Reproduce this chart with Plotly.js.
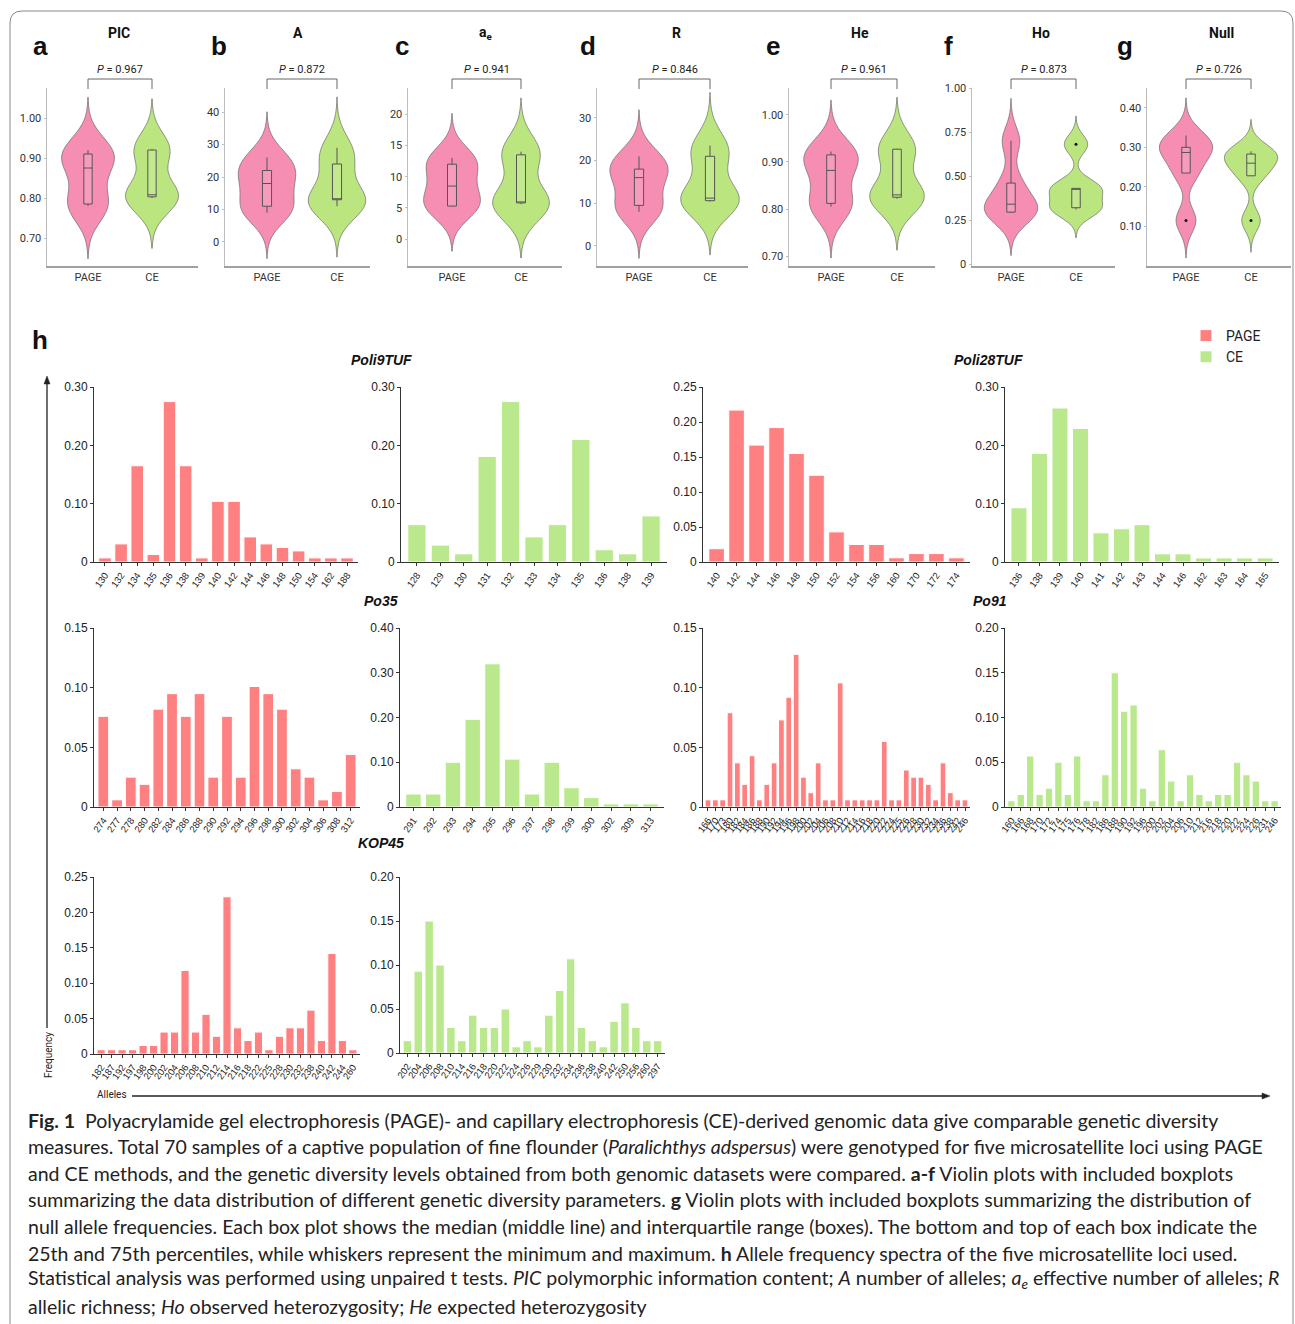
<!DOCTYPE html>
<html>
<head>
<meta charset="utf-8">
<script src="https://cdn.plot.ly/plotly-3.0.1.min.js"></script>
<style>
html,body{margin:0;padding:0;background:#fff;}
#chart{width:1295px;height:1324px;}
</style>
</head>
<body>
<div id="chart"></div>
<script>
// ---------------- DATA ----------------
const groups = ['PAGE', 'CE'];

// per-locus values (5 loci) estimated from the violin/box plots
const PIC_PAGE = [0.78, 0.785, 0.875, 0.91, 0.92];
const PIC_CE   = [0.80, 0.803, 0.808, 0.92, 0.922];
const A_PAGE   = [9, 11, 18, 22, 26];
const A_CE     = [11, 13, 13, 24, 29];
const AE_PAGE  = [5.2, 5.3, 8.5, 12, 13];
const AE_CE    = [5.6, 5.8, 5.8, 13.5, 14];
const R_PAGE   = [8, 9.5, 16, 18, 21];
const R_CE     = [10.4, 10.6, 11.2, 21, 23.5];
const HE_PAGE  = [0.805, 0.812, 0.882, 0.915, 0.922];
const HE_CE    = [0.822, 0.825, 0.83, 0.927, 0.928];
const HO_PAGE  = [0.29, 0.295, 0.34, 0.46, 0.70];
const HO_CE    = [0.31, 0.32, 0.43, 0.43, 0.68];
const NULL_PAGE = [0.115, 0.235, 0.287, 0.30, 0.33];
const NULL_CE   = [0.115, 0.228, 0.26, 0.283, 0.29];

const paramTitles = ['PIC', 'A', 'a<sub>e</sub>', 'R', 'He', 'Ho', 'Null'];
const panelLetters = ['a', 'b', 'c', 'd', 'e', 'f', 'g'];
const pValues = ['0.967', '0.872', '0.941', '0.846', '0.961', '0.873', '0.726'];

const violinTicks = [
  [0.70, 0.80, 0.90, 1.00],
  [0, 10, 20, 30, 40],
  [0, 5, 10, 15, 20],
  [0, 10, 20, 30],
  [0.70, 0.80, 0.90, 1.00],
  [0, 0.25, 0.50, 0.75, 1.00],
  [0.10, 0.20, 0.30, 0.40]
];
const violinTickText = [
  ['0.70', '0.80', '0.90', '1.00'],
  ['0', '10', '20', '30', '40'],
  ['0', '5', '10', '15', '20'],
  ['0', '10', '20', '30'],
  ['0.70', '0.80', '0.90', '1.00'],
  ['0', '0.25', '0.50', '0.75', '1.00'],
  ['0.10', '0.20', '0.30', '0.40']
];

// allele frequency spectra
const poli9_PAGE_alleles = ['130','132','134','135','136','138','139','140','142','144','146','148','150','154','162','188'];
const poli9_PAGE_freq    = [0.007,0.031,0.165,0.013,0.275,0.165,0.007,0.104,0.104,0.043,0.031,0.025,0.019,0.007,0.007,0.007];
const poli9_CE_alleles   = ['128','129','130','131','132','133','134','135','136','138','139'];
const poli9_CE_freq      = [0.064,0.029,0.014,0.181,0.275,0.043,0.064,0.210,0.021,0.014,0.079];

const poli28_PAGE_alleles = ['140','142','144','146','148','150','152','154','156','160','170','172','174'];
const poli28_PAGE_freq    = [0.019,0.217,0.167,0.192,0.155,0.124,0.043,0.025,0.025,0.006,0.012,0.012,0.006];
const poli28_CE_alleles   = ['136','138','139','140','141','142','143','144','146','162','163','164','165'];
const poli28_CE_freq      = [0.093,0.186,0.264,0.229,0.050,0.057,0.064,0.014,0.014,0.007,0.007,0.007,0.007];

const po35_PAGE_alleles = ['274','277','278','280','282','284','286','288','290','292','294','296','298','300','302','304','306','308','312'];
const po35_PAGE_freq    = [0.076,0.006,0.025,0.019,0.082,0.095,0.076,0.095,0.025,0.076,0.025,0.101,0.095,0.082,0.032,0.025,0.006,0.013,0.044];
const po35_CE_alleles   = ['291','292','293','294','295','296','297','298','299','300','302','309','313'];
const po35_CE_freq      = [0.029,0.029,0.100,0.196,0.320,0.107,0.029,0.100,0.043,0.021,0.007,0.007,0.007];

const po91_PAGE_alleles = ['166','170','173','180','182','184','186','188','190','192','194','196','198','200','202','204','206','208','210','212','214','216','218','220','222','224','225','226','228','230','232','234','236','238','242','246'];
const po91_PAGE_freq    = [0.006,0.006,0.006,0.079,0.037,0.019,0.043,0.006,0.019,0.037,0.073,0.092,0.128,0.025,0.012,0.037,0.006,0.006,0.104,0.006,0.006,0.006,0.006,0.006,0.055,0.006,0.006,0.031,0.025,0.025,0.019,0.006,0.037,0.012,0.006,0.006];
const po91_CE_alleles   = ['160','166','168','170','172','174','175','176','178','182','186','188','190','192','196','200','202','204','206','210','212','216','218','220','222','224','226','231','246'];
const po91_CE_freq      = [0.007,0.014,0.057,0.014,0.021,0.050,0.014,0.057,0.007,0.007,0.036,0.150,0.107,0.114,0.021,0.007,0.064,0.029,0.007,0.036,0.014,0.007,0.014,0.014,0.050,0.036,0.029,0.007,0.007];

const kop45_PAGE_alleles = ['182','187','192','197','198','200','202','204','206','208','210','212','214','216','218','222','225','228','230','232','238','240','242','244','260'];
const kop45_PAGE_freq    = [0.006,0.006,0.006,0.006,0.012,0.012,0.031,0.031,0.118,0.031,0.056,0.025,0.222,0.037,0.019,0.031,0.006,0.025,0.037,0.037,0.062,0.019,0.142,0.019,0.006];
const kop45_CE_alleles   = ['202','204','206','208','210','214','216','218','220','222','224','226','229','230','232','234','236','238','240','242','250','256','260','297'];
const kop45_CE_freq      = [0.014,0.093,0.150,0.100,0.029,0.014,0.043,0.029,0.029,0.050,0.007,0.014,0.007,0.043,0.071,0.107,0.029,0.014,0.007,0.036,0.057,0.029,0.014,0.014];

const locusNames = ['Poli9TUF', 'Poli28TUF', 'Po35', 'Po91', 'KOP45'];
const barYTicks = [
  [0,0.10,0.20,0.30],[0,0.10,0.20,0.30],[0,0.05,0.10,0.15,0.20,0.25],[0,0.10,0.20,0.30],
  [0,0.05,0.10,0.15],[0,0.10,0.20,0.30,0.40],[0,0.05,0.10,0.15],[0,0.05,0.10,0.15,0.20],
  [0,0.05,0.10,0.15,0.20,0.25],[0,0.05,0.10,0.15,0.20]
];

const captionLines = [
  '<b>Fig. 1</b>  Polyacrylamide gel electrophoresis (PAGE)- and capillary electrophoresis (CE)-derived genomic data give comparable genetic diversity',
  'measures. Total 70 samples of a captive population of fine flounder (<i>Paralichthys adspersus</i>) were genotyped for five microsatellite loci using PAGE',
  'and CE methods, and the genetic diversity levels obtained from both genomic datasets were compared. <b>a-f</b> Violin plots with included boxplots',
  'summarizing the data distribution of different genetic diversity parameters. <b>g</b> Violin plots with included boxplots summarizing the distribution of',
  'null allele frequencies. Each box plot shows the median (middle line) and interquartile range (boxes). The bottom and top of each box indicate the',
  '25th and 75th percentiles, while whiskers represent the minimum and maximum. <b>h</b> Allele frequency spectra of the five microsatellite loci used.',
  'Statistical analysis was performed using unpaired t tests. <i>PIC</i> polymorphic information content; <i>A</i> number of alleles; <i>a<sub>e</sub></i> effective number of alleles; <i>R</i>',
  'allelic richness; <i>Ho</i> observed heterozygosity; <i>He</i> expected heterozygosity'
];

// ---------------- LAYOUT HELPERS ----------------
const W = 1295, H = 1324;
const fx = p => p / W;
const fy = p => 1 - p / H;

const PAGE_FILL = 'rgb(246,142,179)';
const CE_FILL = 'rgb(187,230,127)';
const BAR_PAGE = 'rgb(255,128,128)';
const BAR_CE = 'rgb(186,232,140)';
const FONT = 'Roboto, Arial, sans-serif';
const ARIAL = '"Liberation Sans", Arial, sans-serif';

// violin panel geometry (pixels)
const vGeom = [
  {ax: 47,  xe: 198,  xp: 88,   xc: 152,  lx: 40,   yr: [0.63, 1.075]},
  {ax: 225, xe: 370,  xp: 267,  xc: 337,  lx: 219,  yr: [-7.4, 47.4]},
  {ax: 408, xe: 562,  xp: 452,  xc: 521,  lx: 402,  yr: [-4.3, 24.2]},
  {ax: 597, xe: 748,  xp: 639,  xc: 710,  lx: 588,  yr: [-4.7, 37.0]},
  {ax: 789, xe: 935,  xp: 831,  xc: 897,  lx: 773,  yr: [0.679, 1.057]},
  {ax: 972, xe: 1115, xp: 1011, xc: 1076, lx: 948,  yr: [-0.011, 1.0]},
  {ax: 1147,xe: 1291, xp: 1186, xc: 1251, lx: 1125, yr: [0, 0.45]}
];
const vTop = 88, vBot = 266;
const titleX = [119, 298, 486, 676, 860, 1041, 1221];

const violinData = [
  [PIC_PAGE, PIC_CE], [A_PAGE, A_CE], [AE_PAGE, AE_CE], [R_PAGE, R_CE],
  [HE_PAGE, HE_CE], [HO_PAGE, HO_CE], [NULL_PAGE, NULL_CE]
];

// bar panel geometry (pixels)
const bGeom = [
  {x0: 94,  x1: 358,  y0: 387, y1: 562, yr: [0, 0.30]},
  {x0: 401, x1: 667,  y0: 387, y1: 562, yr: [0, 0.30]},
  {x0: 703, x1: 970,  y0: 387, y1: 562, yr: [0, 0.25]},
  {x0: 1005,x1: 1279, y0: 387, y1: 562, yr: [0, 0.30]},
  {x0: 94,  x1: 360,  y0: 628, y1: 807, yr: [0, 0.15]},
  {x0: 400, x1: 664,  y0: 628, y1: 807, yr: [0, 0.40]},
  {x0: 703, x1: 970,  y0: 628, y1: 807, yr: [0, 0.15]},
  {x0: 1005,x1: 1281, y0: 628, y1: 807, yr: [0, 0.20]},
  {x0: 94,  x1: 360,  y0: 877, y1: 1054, yr: [0, 0.25]},
  {x0: 400, x1: 665,  y0: 877, y1: 1053, yr: [0, 0.20]}
];
const barData = [
  [poli9_PAGE_alleles, poli9_PAGE_freq, 'PAGE'], [poli9_CE_alleles, poli9_CE_freq, 'CE'],
  [poli28_PAGE_alleles, poli28_PAGE_freq, 'PAGE'], [poli28_CE_alleles, poli28_CE_freq, 'CE'],
  [po35_PAGE_alleles, po35_PAGE_freq, 'PAGE'], [po35_CE_alleles, po35_CE_freq, 'CE'],
  [po91_PAGE_alleles, po91_PAGE_freq, 'PAGE'], [po91_CE_alleles, po91_CE_freq, 'CE'],
  [kop45_PAGE_alleles, kop45_PAGE_freq, 'PAGE'], [kop45_CE_alleles, kop45_CE_freq, 'CE']
];

function quant7(s, p) {
  const h = (s.length - 1) * p, lo = Math.floor(h), hi = Math.ceil(h);
  return s[lo] + (h - lo) * (s[hi] - s[lo]);
}
function nrd0(arr) {
  const s = arr.slice().sort((a, b) => a - b), n = s.length;
  const m = s.reduce((a, b) => a + b, 0) / n;
  const sd = Math.sqrt(s.reduce((a, b) => a + (b - m) * (b - m), 0) / (n - 1));
  const iqr = quant7(s, 0.75) - quant7(s, 0.25);
  let lo = Math.min(sd, iqr / 1.34);
  if (!(lo > 0)) lo = sd || Math.abs(s[0]) || 1;
  return 0.9 * lo * Math.pow(n, -0.2);
}

const traces = [];
const layout = {
  width: W, height: H,
  margin: {l: 0, r: 0, t: 0, b: 0},
  paper_bgcolor: '#fff', plot_bgcolor: 'rgba(0,0,0,0)',
  font: {family: FONT, color: '#222'},
  showlegend: true,
  legend: {x: fx(1186), y: fy(320), xanchor: 'left', yanchor: 'top', font: {size: 14, family: FONT, color: '#222'},
           bgcolor: 'rgba(0,0,0,0)', tracegroupgap: 0, itemwidth: 30},
  annotations: [], shapes: []
};

// ---- violins
vGeom.forEach((g, i) => {
  const k = i + 1, xs = 'x' + k, ys = 'y' + k;
  const sp = g.xc - g.xp;
  layout['xaxis' + k] = {
    domain: [fx(g.ax), fx(g.xe)], anchor: ys, type: 'category', categoryorder: 'array', categoryarray: groups,
    range: [-(g.xp - g.ax) / sp, 1 + (g.xe - g.xc) / sp],
    showline: true, linecolor: '#a0a0a0', linewidth: 1.5, ticks: '', showgrid: false, zeroline: false,
    tickfont: {size: 11, color: '#333', family: FONT}, fixedrange: true
  };
  layout['yaxis' + k] = {
    domain: [fy(vBot), fy(vTop)], anchor: xs, range: g.yr,
    showline: true, linecolor: '#bdbdbd', linewidth: 1.5, ticks: 'outside', ticklen: 2, tickcolor: '#bdbdbd',
    tickvals: violinTicks[i], ticktext: violinTickText[i], showgrid: false, zeroline: false,
    tickfont: {size: 11, color: '#333', family: FONT}, fixedrange: true
  };
  violinData[i].forEach((arr, j) => {
    const bw = nrd0(arr);
    const mn = Math.min(...arr), mx = Math.max(...arr);
    traces.push({
      type: 'violin', x: arr.map(() => groups[j]), y: arr, xaxis: xs, yaxis: ys,
      fillcolor: j === 0 ? PAGE_FILL : CE_FILL, line: {color: '#6a6a6a', width: 0.7},
      points: false, box: {visible: false}, meanline: {visible: false},
      bandwidth: bw, spanmode: 'manual', span: [mn - 3 * bw, mx + 3 * bw],
      width: 0.82, scalegroup: 'v' + k, scalemode: 'width', showlegend: false, hoverinfo: 'skip', opacity: 1
    });
    traces.push({
      type: 'box', x: arr.map(() => groups[j]), y: arr, xaxis: xs, yaxis: ys,
      quartilemethod: 'inclusive', width: 0.13, fillcolor: 'rgba(255,255,255,0.12)',
      line: {color: '#555', width: 1}, whiskerwidth: 0, boxpoints: 'outliers',
      marker: {color: '#111', size: 3, outliercolor: '#111', line: {width: 0}},
      showlegend: false, hoverinfo: 'skip'
    });
  });
  const mid = (g.xp + g.xc) / 2;
  layout.annotations.push({xref: 'paper', yref: 'paper', x: fx(titleX[i]), y: fy(33), text: '<b>' + paramTitles[i] + '</b>',
    showarrow: false, font: {size: 14, family: FONT, color: '#111'}, xanchor: 'center', yanchor: 'middle'});
  layout.annotations.push({xref: 'paper', yref: 'paper', x: fx(g.lx), y: fy(46), text: '<b>' + panelLetters[i] + '</b>',
    showarrow: false, font: {size: 26, family: ARIAL, color: '#111'}, xanchor: 'center', yanchor: 'middle'});
  layout.annotations.push({xref: 'paper', yref: 'paper', x: fx(mid), y: fy(69), text: '<i>P</i> = ' + pValues[i],
    showarrow: false, font: {size: 11, family: FONT, color: '#222'}, xanchor: 'center', yanchor: 'middle'});
  layout.shapes.push({type: 'path', xref: 'paper', yref: 'paper',
    path: `M ${fx(g.xp)} ${fy(89)} L ${fx(g.xp)} ${fy(79)} L ${fx(g.xc)} ${fy(79)} L ${fx(g.xc)} ${fy(89)}`,
    line: {color: '#666', width: 1}});
});

// ---- bars
const legendShown = {PAGE: false, CE: false};
bGeom.forEach((g, i) => {
  const k = i + 8, xs = 'x' + k, ys = 'y' + k;
  const [alleles, freq, grp] = barData[i];
  const n = alleles.length;
  layout['xaxis' + k] = {
    domain: [fx(g.x0), fx(g.x1)], anchor: ys, type: 'category', range: [-0.68, n - 0.32],
    tickmode: 'linear', tick0: 0, dtick: 1,
    showline: true, linecolor: '#333', linewidth: 1, ticks: 'outside', ticklen: 3, tickcolor: '#333',
    tickangle: -55, tickfont: {size: 9.5, color: '#222', family: ARIAL}, showgrid: false, zeroline: false, fixedrange: true
  };
  layout['yaxis' + k] = {
    domain: [fy(g.y1), fy(g.y0)], anchor: xs, range: g.yr,
    showline: true, linecolor: '#333', linewidth: 1, ticks: 'outside', ticklen: 3, tickcolor: '#333',
    tickvals: barYTicks[i], ticktext: barYTicks[i].map(v => v === 0 ? '0' : v.toFixed(2)),
    tickfont: {size: 12, color: '#222', family: ARIAL}, showgrid: false, zeroline: false, fixedrange: true
  };
  const show = !legendShown[grp];
  legendShown[grp] = true;
  traces.push({
    type: 'bar', x: alleles, y: freq, xaxis: xs, yaxis: ys, name: grp, legendgroup: grp,
    showlegend: show, marker: {color: grp === 'PAGE' ? BAR_PAGE : BAR_CE, line: {color: '#fff', width: 1}},
    hoverinfo: 'x+y'
  });
});
layout.bargap = 0.22;

// locus titles
const locusPos = [[381, 360], [988, 360], [381, 601], [990, 601], [381, 843]];
locusNames.forEach((nm, i) => {
  layout.annotations.push({xref: 'paper', yref: 'paper', x: fx(locusPos[i][0]), y: fy(locusPos[i][1]),
    text: '<b><i>' + nm + '</i></b>', showarrow: false, font: {size: 14, family: ARIAL, color: '#111'},
    xanchor: 'center', yanchor: 'middle'});
});

// h label
layout.annotations.push({xref: 'paper', yref: 'paper', x: fx(40), y: fy(340), text: '<b>h</b>', showarrow: false,
  font: {size: 26, family: ARIAL, color: '#111'}, xanchor: 'center', yanchor: 'middle'});

// axis arrows (lines + arrow heads as shapes)
const ARW = '#222';
layout.shapes.push({type: 'line', xref: 'paper', yref: 'paper', x0: fx(47), y0: fy(1028), x1: fx(47), y1: fy(382),
  line: {color: ARW, width: 1.3}});
layout.shapes.push({type: 'path', xref: 'paper', yref: 'paper', fillcolor: ARW, line: {color: ARW, width: 0.5},
  path: `M ${fx(44)} ${fy(384)} L ${fx(47)} ${fy(376)} L ${fx(50)} ${fy(384)} Z`});
layout.shapes.push({type: 'line', xref: 'paper', yref: 'paper', x0: fx(132), y0: fy(1096), x1: fx(1264), y1: fy(1096),
  line: {color: ARW, width: 1.3}});
layout.shapes.push({type: 'path', xref: 'paper', yref: 'paper', fillcolor: ARW, line: {color: ARW, width: 0.5},
  path: `M ${fx(1262)} ${fy(1093)} L ${fx(1270)} ${fy(1096)} L ${fx(1262)} ${fy(1099)} Z`});
layout.annotations.push({xref: 'paper', yref: 'paper', x: fx(48), y: fy(1055), text: 'Frequency', textangle: -90,
  showarrow: false, font: {size: 10, family: FONT, color: '#222'}, xanchor: 'center', yanchor: 'middle'});
layout.annotations.push({xref: 'paper', yref: 'paper', x: fx(112), y: fy(1094), text: 'Alleles',
  showarrow: false, font: {size: 10, family: FONT, color: '#222'}, xanchor: 'center', yanchor: 'middle'});

// caption
const capY = [1120, 1146, 1173, 1199, 1226, 1253, 1279, 1306];
captionLines.forEach((t, i) => {
  layout.annotations.push({xref: 'paper', yref: 'paper', x: fx(26), y: fy(capY[i]), text: t, showarrow: false,
    font: {size: 19.5, family: 'Lato, "Open Sans", sans-serif', color: '#222'}, xanchor: 'left', yanchor: 'middle', align: 'left'});
});

// outer frame
const r = 12, L = 10, T = 11, R = 1293, B = 1340;
layout.shapes.push({type: 'path', xref: 'paper', yref: 'paper', layer: 'below',
  path: `M ${fx(L)} ${fy(B)} L ${fx(L)} ${fy(T + r)} Q ${fx(L)} ${fy(T)} ${fx(L + r)} ${fy(T)} L ${fx(R - r)} ${fy(T)} Q ${fx(R)} ${fy(T)} ${fx(R)} ${fy(T + r)} L ${fx(R)} ${fy(B)}`,
  line: {color: '#8a8a8a', width: 1}});

Plotly.newPlot('chart', traces, layout, {staticPlot: true, displayModeBar: false});
</script>
</body>
</html>
